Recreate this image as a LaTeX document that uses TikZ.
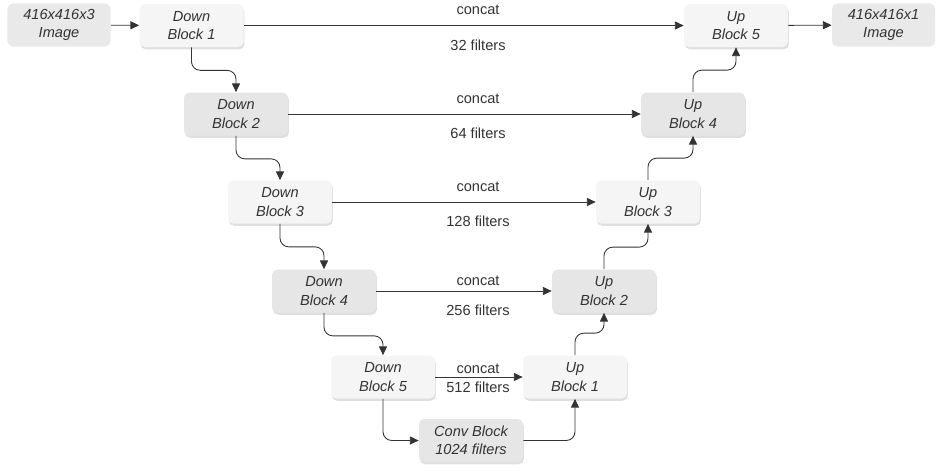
\documentclass[tikz,border=0pt]{standalone}
\usepackage{fontspec}
\setmainfont{Liberation Sans}
\definecolor{boxlight}{HTML}{F5F5F5}
\definecolor{boxdark}{HTML}{E6E6E6}
\definecolor{iofill}{HTML}{E9E9E9}
\definecolor{inkgray}{HTML}{333333}
\usetikzlibrary{arrows.meta,shadows}
\tikzset{
  blk/.style={rounded corners=3pt,minimum width=2.08cm,minimum height=0.86cm,
              align=center,text=inkgray,font=\fontsize{8.3}{10.3}\selectfont\itshape,
              drop shadow={shadow xshift=0.5pt,shadow yshift=-1.3pt,opacity=0.25}},
  lblk/.style={blk,fill=boxlight},
  dblk/.style={blk,fill=boxdark},
  iobox/.style={rounded corners=3pt,fill=iofill,minimum width=2.06cm,minimum height=0.84cm,
                align=center,text=inkgray,font=\fontsize{8.3}{10.3}\selectfont\itshape},
  arr/.style={-{Triangle[length=5pt,width=4.6pt]},inkgray,line width=0.5pt,rounded corners=5pt},
  lbl/.style={text=inkgray,inner sep=1pt,font=\fontsize{8.3}{10}\selectfont},
}

\begin{document}
\begin{tikzpicture}
  \useasboundingbox (0,0) rectangle (18.78,-9.4);
  % encoder
  \node[iobox] (inimg) at (1.18,-0.50) {416x416x3\\Image};
  \node[lblk] (dn1) at (3.83,-0.51) {Down\\Block 1};
  \node[dblk] (dn2) at (4.72,-2.28) {Down\\Block 2};
  \node[lblk] (dn3) at (5.60,-4.04) {Down\\Block 3};
  \node[dblk] (dn4) at (6.48,-5.82) {Down\\Block 4};
  \node[lblk] (dn5) at (7.66,-7.54) {Down\\Block 5};
  \node[dblk] (conv) at (9.42,-8.81) {Conv Block\\1024 filters};
  % decoder
  \node[lblk] (up1) at (11.50,-7.54) {Up\\Block 1};
  \node[dblk] (up2) at (12.08,-5.82) {Up\\Block 2};
  \node[lblk] (up3) at (12.96,-4.04) {Up\\Block 3};
  \node[dblk] (up4) at (13.86,-2.28) {Up\\Block 4};
  \node[lblk] (up5) at (14.72,-0.51) {Up\\Block 5};
  \node[iobox] (outimg) at (17.67,-0.50) {416x416x1\\Image};

  % in / out
  \draw[arr] (inimg) -- (dn1);
  \draw[arr] (up5) -- (outimg);

  % down path
  \draw[arr] (dn1.south) -- ++(0,-0.46) -| (dn2.north);
  \draw[arr] (dn2.south) -- ++(0,-0.46) -| (dn3.north);
  \draw[arr] (dn3.south) -- ++(0,-0.46) -| (dn4.north);
  \draw[arr] (dn4.south) -- ++(0,-0.46) -| (dn5.north);
  \draw[arr] (dn5.south) |- (conv.west);
  \draw[arr] (conv.east) -| (up1.south);

  % up path
  \draw[arr] (up1.north) -- ++(0,0.44) -| (up2.south);
  \draw[arr] (up2.north) -- ++(0,0.44) -| (up3.south);
  \draw[arr] (up3.north) -- ++(0,0.44) -| (up4.south);
  \draw[arr] (up4.north) -- ++(0,0.44) -| (up5.south);

  % skip connections
  \draw[arr] (dn1) -- (up5);
  \draw[arr] (dn2) -- (up4);
  \draw[arr] (dn3) -- (up3);
  \draw[arr] (dn4) -- (up2);
  \draw[arr] (dn5) -- (up1);

  \node[lbl] (cat1) at (9.56,-0.20) {concat};
  \node[lbl] (flt1) at (9.56,-0.90) {32 filters};
  \node[lbl] (cat2) at (9.56,-1.97) {concat};
  \node[lbl] (flt2) at (9.56,-2.66) {64 filters};
  \node[lbl] (cat3) at (9.56,-3.73) {concat};
  \node[lbl] (flt3) at (9.56,-4.43) {128 filters};
  \node[lbl] (cat4) at (9.56,-5.62) {concat};
  \node[lbl] (flt4) at (9.56,-6.20) {256 filters};
  \node[lbl] (cat5) at (9.56,-7.37) {concat};
  \node[lbl] (flt5) at (9.56,-7.74) {512 filters};
\end{tikzpicture}
\end{document}
